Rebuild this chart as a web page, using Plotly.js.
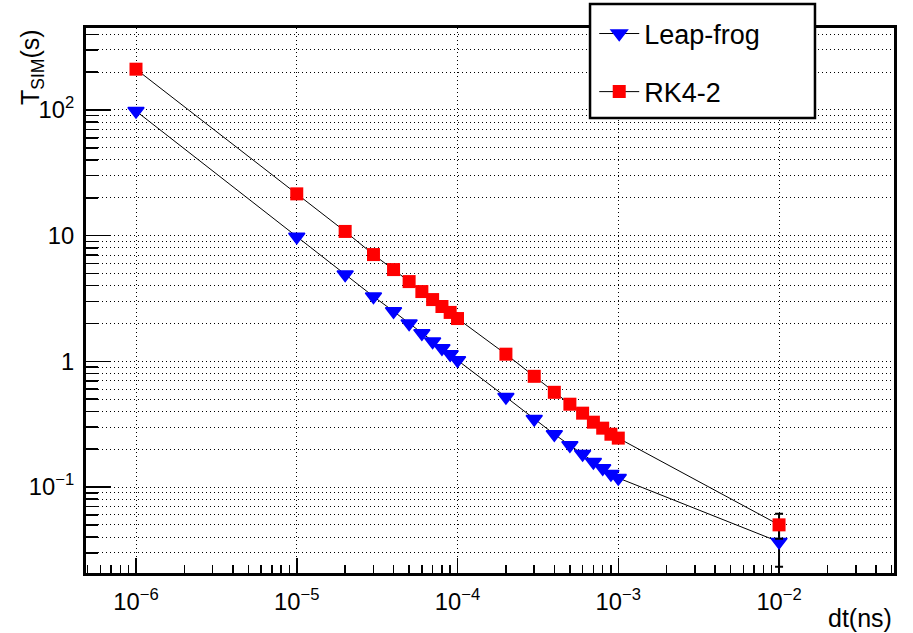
<!DOCTYPE html>
<html>
<head>
<meta charset="utf-8">
<script src="https://cdn.plot.ly/plotly-3.0.1.min.js"></script>
<style>html,body{margin:0;padding:0;background:#fff;}#chart{width:913px;height:633px;}</style>
</head>
<body>
<div id="chart"></div>
<script>
// Time step dt (ns)
const dt = [1e-6, 1e-5, 2e-5, 3e-5, 4e-5, 5e-5, 6e-5, 7e-5, 8e-5, 9e-5, 1e-4,
            2e-4, 3e-4, 4e-4, 5e-4, 6e-4, 7e-4, 8e-4, 9e-4, 1e-3, 1e-2];
// Simulation time T_SIM (s)
const leapFrog = [98, 9.8, 4.9, 3.28, 2.5, 2.0, 1.67, 1.44, 1.27, 1.14, 1.02,
                  0.52, 0.347, 0.263, 0.215, 0.183, 0.158, 0.141, 0.127, 0.118, 0.0366];
const rk42 = [211, 21.5, 10.8, 7.07, 5.37, 4.31, 3.59, 3.1, 2.73, 2.45, 2.19,
              1.14, 0.76, 0.567, 0.456, 0.387, 0.328, 0.294, 0.263, 0.245, 0.050];
// error bars (only last point)
const leapErr = [0,0,0,0,0,0,0,0,0,0,0,0,0,0,0,0,0,0,0,0,0.0134];
const rkErr   = [0,0,0,0,0,0,0,0,0,0,0,0,0,0,0,0,0,0,0,0,0.0113];
const seriesNames = ['Leap-frog', 'RK4-2'];

const FONT = 'Liberation Sans, Arial, Helvetica, sans-serif';
const DOTS = '1px,3px';

const traces = [
  {
    x: dt, y: leapFrog, name: seriesNames[0], legendgroup: 'a',
    type: 'scatter', mode: 'lines+markers',
    line: {color: '#000', width: 1},
    marker: {symbol: 'triangle-down', color: '#0000ff', size: 14, line: {color: '#0000ff', width: 1.5}},
    error_y: {type: 'data', symmetric: true, array: leapErr, visible: true, color: '#000', thickness: 2, width: 4}
  },
  {
    x: dt, y: rk42, name: seriesNames[1], legendgroup: 'b',
    type: 'scatter', mode: 'lines+markers',
    line: {color: '#000', width: 1},
    marker: {symbol: 'square', color: '#ff0000', size: 13},
    error_y: {type: 'data', symmetric: true, array: rkErr, visible: true, color: '#000', thickness: 2, width: 4}
  }
];

const axisCommon = {
  type: 'log',
  dtick: 1,
  exponentformat: 'power',
  showline: true, mirror: true, linecolor: '#000', linewidth: 3,
  ticks: 'inside', tickcolor: '#000', tickwidth: 1.5,
  showgrid: true, gridcolor: '#000', gridwidth: 1, griddash: DOTS,
  zeroline: false,
  tickfont: {family: FONT, size: 19, color: '#000'}
};

const layout = {
  width: 913, height: 633,
  margin: {l: 86, r: 19, t: 28, b: 60, autoexpand: false},
  paper_bgcolor: '#fff', plot_bgcolor: '#fff',
  font: {family: FONT, color: '#000'},
  showlegend: true,
  xaxis: Object.assign({}, axisCommon, {
    range: [-6.311, -1.285],
    ticklen: 15,
    ticklabelstandoff: 6,
    minor: {dtick: 'D1', ticks: 'inside', ticklen: 8, tickwidth: 1.5, tickcolor: '#000', showgrid: false}
  }),
  yaxis: Object.assign({}, axisCommon, {
    range: [-1.684, 2.652],
    ticklen: 25,
    ticklabelstandoff: 5,
    minor: {dtick: 'D1', ticks: 'inside', ticklen: 12, tickwidth: 1.5, tickcolor: '#000',
            showgrid: true, gridcolor: '#000', gridwidth: 1, griddash: DOTS}
  }),
  legend: {
    x: 0.629, y: 1.034, xanchor: 'left', yanchor: 'top',
    bgcolor: 'rgba(0,0,0,0)', borderwidth: 0,
    font: {family: FONT, size: 27, color: '#000'},
    tracegroupgap: 20, itemwidth: 40
  },
  shapes: [
    {type: 'rect', xref: 'paper', yref: 'paper', x0: 0.6238, x1: 0.9022, y0: 0.8349, y1: 1.044,
     fillcolor: '#fff', line: {color: '#000', width: 2.5}, layer: 'above'}
  ],
  annotations: [
    {text: 'dt(ns)', xref: 'paper', yref: 'paper', x: 1, y: 0, xanchor: 'right', yanchor: 'top',
     yshift: -29, showarrow: false, font: {family: FONT, size: 25, color: '#000'}},
    {text: 'T<sub>SIM</sub>(s)', xref: 'paper', yref: 'paper', x: 0, y: 1, xanchor: 'right', yanchor: 'top',
     xshift: -36, yshift: 1, textangle: -90, showarrow: false, font: {family: FONT, size: 25, color: '#000'}}
  ]
};

Plotly.newPlot('chart', traces, layout, {displayModeBar: false, staticPlot: true});
</script>
</body>
</html>
